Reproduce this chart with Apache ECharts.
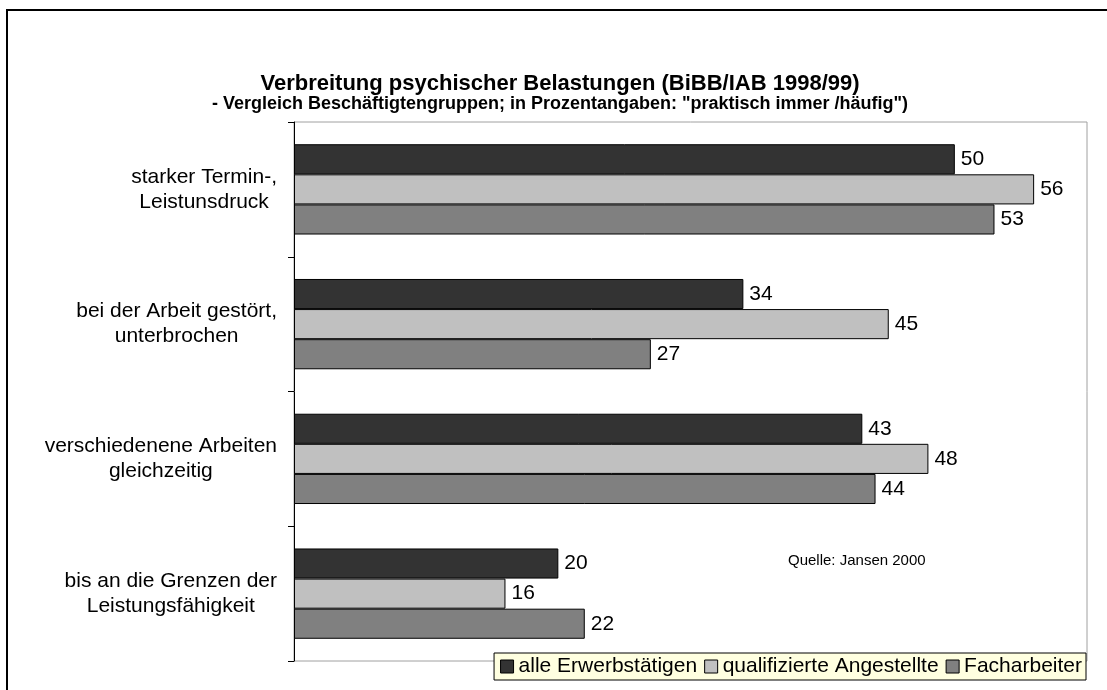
<!DOCTYPE html>
<html>
<head>
<meta charset="utf-8">
<script src="https://cdn.jsdelivr.net/npm/echarts@6/dist/echarts.min.js"></script>
<style>
html,body{margin:0;padding:0;background:#fff;}
#chart{width:1107px;height:690px;}
</style>
</head>
<body>
<div id="chart"></div>
<script>
const categories = [
  "starker Termin-,\nLeistunsdruck",
  "bei der Arbeit gestört,\nunterbrochen",
  "verschiedenene Arbeiten\ngleichzeitig",
  "bis an die Grenzen der\nLeistungsfähigkeit"
];
const seriesNames = ["alle Erwerbstätigen", "qualifizierte Angestellte", "Facharbeiter"];
const alleErwerbstaetigen = [50, 34, 43, 20];
const qualifizierteAngestellte = [56, 45, 48, 16];
const facharbeiter = [53, 27, 44, 22];
const seriesColors = ["#333333", "#c0c0c0", "#808080"];
const FONT = "'Liberation Sans', Arial, sans-serif";

const chart = echarts.init(document.getElementById('chart'));
const dataSets = [alleErwerbstaetigen, qualifizierteAngestellte, facharbeiter];

chart.setOption({
  animation: false,
  backgroundColor: '#ffffff',
  textStyle: { fontFamily: FONT },
  title: {
    text: 'Verbreitung psychischer Belastungen (BiBB/IAB 1998/99)',
    subtext: '- Vergleich Beschäftigtengruppen; in Prozentangaben: "praktisch immer /häufig")',
    left: 555, textAlign: 'center', top: 68, itemGap: 0,
    textStyle: { fontFamily: FONT, fontSize: 22, fontWeight: 'bold', color: '#000' },
    subtextStyle: { fontFamily: FONT, fontSize: 18, fontWeight: 'bold', color: '#000' }
  },
  legend: {
    data: seriesNames,
    right: 21, bottom: 10,
    backgroundColor: '#ffffe0',
    borderColor: '#000', borderWidth: 1,
    padding: [3, 4, 3, 6],
    itemWidth: 13, itemHeight: 13, itemGap: 7,
    icon: 'rect',
    itemStyle: { borderColor: '#000', borderWidth: 1 },
    textStyle: { fontFamily: FONT, fontSize: 21, color: '#000' }
  },
  grid: {
    left: 294, top: 122, right: 20, bottom: 29,
    show: true, borderColor: '#a0a0a0', borderWidth: 1,
    containLabel: false
  },
  xAxis: {
    type: 'value', min: 0, max: 60, show: false,
    splitLine: { show: false }
  },
  yAxis: {
    type: 'category', data: categories, inverse: true,
    axisLine: { show: true, lineStyle: { color: '#000', width: 1 } },
    axisTick: { show: true, length: 6, lineStyle: { color: '#000' } },
    axisLabel: {
      fontFamily: FONT, fontSize: 21, color: '#000', lineHeight: 25,
      align: 'right', margin: 17,
      formatter: function (v) {
        return v.split('\n').map(function (s) { return '{c|' + s + '}'; }).join('\n');
      },
      rich: {
        c: { align: 'center', fontFamily: FONT, fontSize: 21, lineHeight: 25, color: '#000' }
      }
    }
  },
  graphic: [
    {
      type: 'rect', shape: { x: 7, y: 10, width: 1120, height: 700 },
      style: { fill: 'none', stroke: '#000', lineWidth: 2 }, silent: true
    },
    {
      type: 'text', left: 788, top: 553,
      style: { text: 'Quelle: Jansen 2000', font: '15px ' + FONT, fill: '#000' }
    }
  ],
  series: seriesNames.map((name, i) => ({
    name: name,
    type: 'bar',
    data: dataSets[i],
    barGap: '0%',
    barCategoryGap: '33%',
    itemStyle: { color: seriesColors[i], borderColor: '#000', borderWidth: 1 },
    label: { show: true, position: 'right', distance: 6, fontFamily: FONT, fontSize: 21, color: '#000' }
  }))
});
</script>
</body>
</html>
